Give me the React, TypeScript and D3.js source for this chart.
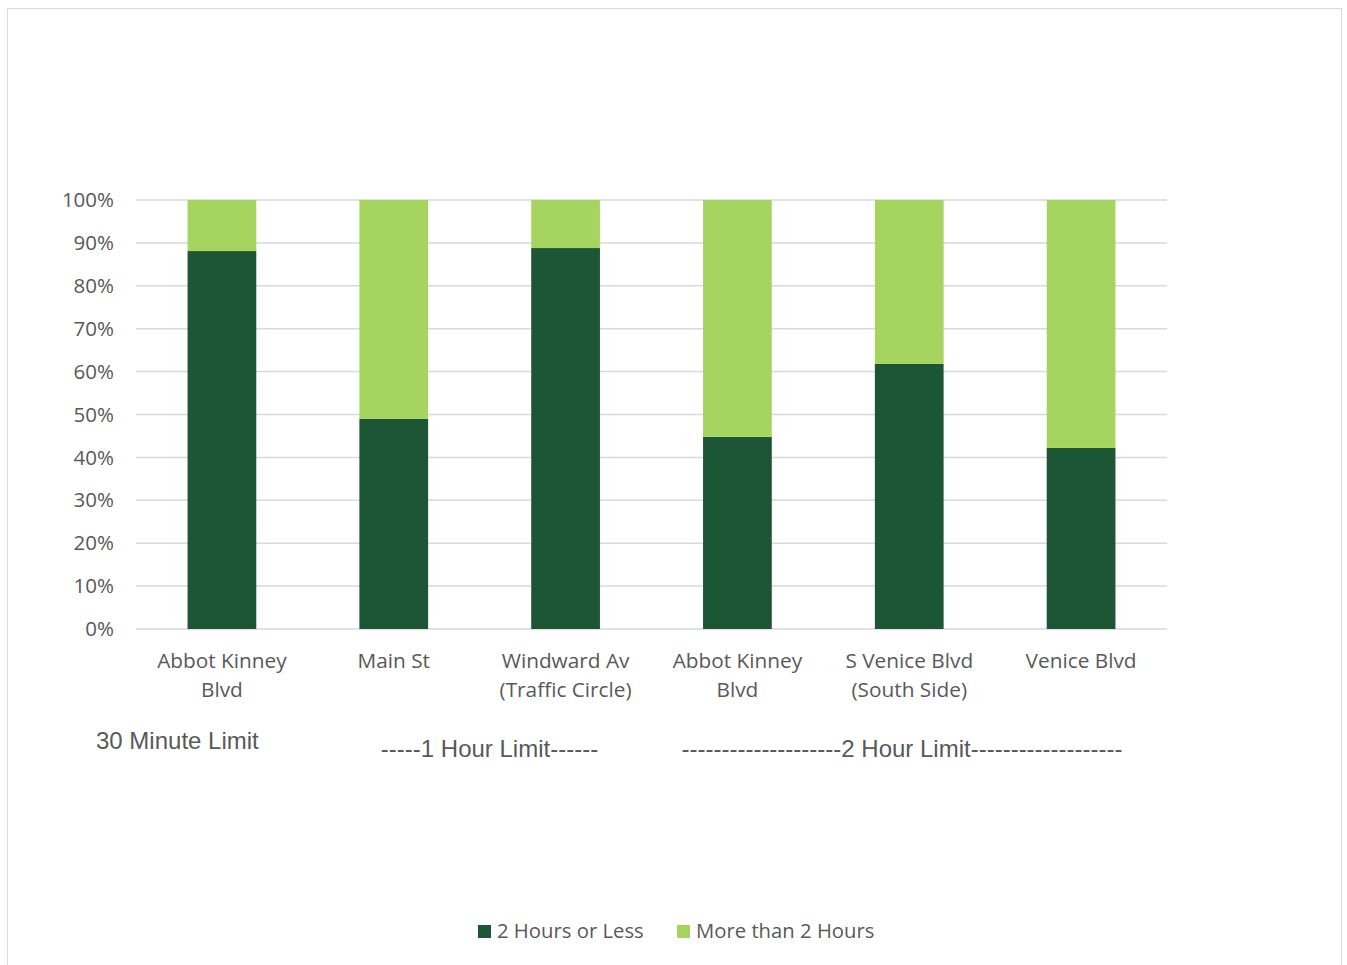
import React from "react";
import * as d3 from "d3";

const categories = [
  ["Abbot Kinney", "Blvd"],
  ["Main St"],
  ["Windward Av", "(Traffic Circle)"],
  ["Abbot Kinney", "Blvd"],
  ["S Venice Blvd", "(South Side)"],
  ["Venice Blvd"],
];
const twoHoursOrLess = [0.881, 0.49, 0.888, 0.448, 0.618, 0.422];
const moreThanTwo = twoHoursOrLess.map((v) => 1 - v);
const yTicks = [0, 0.1, 0.2, 0.3, 0.4, 0.5, 0.6, 0.7, 0.8, 0.9, 1.0];
const seriesNames = ["2 Hours or Less", "More than 2 Hours"];
const colors = ["#1c5634", "#a5d55f"];
const groupLabels = [
  "30 Minute Limit",
  "-----1 Hour Limit------",
  "--------------------2 Hour Limit-------------------",
];

export default function App() {
  const W = 1347, H = 965;
  const left = 136, right = 1167, top = 200, bottom = 629;
  const x = d3.scaleBand<number>().domain(d3.range(categories.length)).range([left, right]).paddingInner(0.6).paddingOuter(0.3);
  const y = d3.scaleLinear().domain([0, 1]).range([bottom, top]);
  const fmt = d3.format(".0%");
  const txt = "#595959";
  const labelFont = "'Open Sans', 'Noto Sans', sans-serif";
  const arial = "'Liberation Sans', Arial, sans-serif";
  return (
    <svg width={W} height={H} style={{ position: "absolute", left: 0, top: 0 }}>
      <rect x={0} y={0} width={W} height={H} fill="#fff" />
      <rect x={7.5} y={8.5} width={1334} height={980} fill="none" stroke="#d9d9d9" strokeWidth={1} />
      {yTicks.map((t) => (
        <g key={t}>
          <line x1={left} x2={right} y1={y(t)} y2={y(t)} stroke="#d9d9d9" strokeWidth={1.5} />
          <text x={114} y={y(t)} dy="0.35em" textAnchor="end" fontSize={20.5} fontFamily={labelFont} fill={txt}>{fmt(t)}</text>
        </g>
      ))}
      {categories.map((c, i) => {
        const bx = x(i)!;
        const bw = x.bandwidth();
        const v0 = twoHoursOrLess[i];
        const v1 = moreThanTwo[i];
        return (
          <g key={i}>
            <rect x={bx} y={y(v0)} width={bw} height={y(0) - y(v0)} fill={colors[0]} />
            <rect x={bx} y={y(v0 + v1)} width={bw} height={y(v0) - y(v0 + v1)} fill={colors[1]} />
            {c.map((line, j) => (
              <text key={j} x={bx + bw / 2} y={668 + j * 28.5} textAnchor="middle" fontSize={20.8} fontFamily={labelFont} fill={txt}>{line}</text>
            ))}
          </g>
        );
      })}
      <text x={96} y={749} fontSize={24} fontFamily={arial} fill={txt}>{groupLabels[0]}</text>
      <text x={489.5} y={757} textAnchor="middle" fontSize={24} fontFamily={arial} fill={txt}>{groupLabels[1]}</text>
      <text x={902} y={757} textAnchor="middle" fontSize={24} fontFamily={arial} fill={txt}>{groupLabels[2]}</text>
      {seriesNames.map((s, i) => {
        const lx = i === 0 ? 478 : 677;
        return (
          <g key={s}>
            <rect x={lx} y={925} width={13} height={13} fill={colors[i]} />
            <text x={lx + 19} y={938} fontSize={20.3} fontFamily={labelFont} fill={txt}>{s}</text>
          </g>
        );
      })}
    </svg>
  );
}
